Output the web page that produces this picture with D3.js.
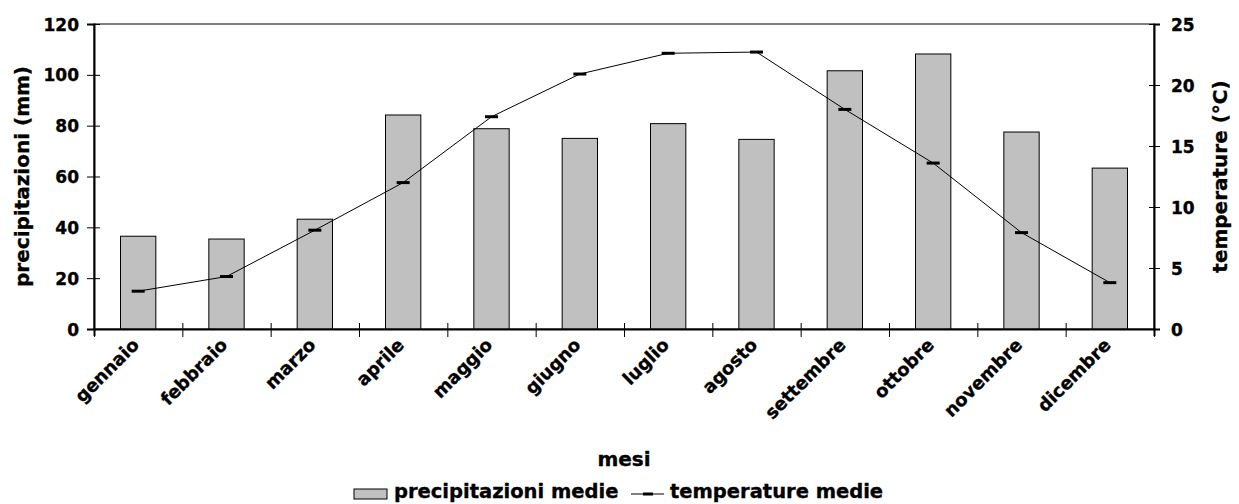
<!DOCTYPE html>
<html>
<head>
<meta charset="utf-8">
<script src="https://cdn.jsdelivr.net/npm/d3@7"></script>
<style>
  html, body { margin: 0; padding: 0; background: #fff; }
  svg { display: block; }
  text { font-family: "DejaVu Sans", Verdana, sans-serif; font-weight: bold; fill: #000;
         stroke: #000; stroke-width: 0.35px; }
</style>
</head>
<body>
<svg id="chart" width="1239" height="504"></svg>
<script>
// Monthly climate normals: mean rainfall (mm) and mean temperature (°C)
const months = ["gennaio", "febbraio", "marzo", "aprile", "maggio", "giugno",
                "luglio", "agosto", "settembre", "ottobre", "novembre", "dicembre"];
const precipitazioni = [36.5, 35.4, 43.2, 84.2, 78.8, 75.0, 80.8, 74.6, 101.6, 108.2, 77.5, 63.3];
const temperature = [3.1, 4.3, 8.1, 12.0, 17.4, 20.9, 22.6, 22.7, 18.0, 13.6, 7.9, 3.8];
const precipTicks = [0, 20, 40, 60, 80, 100, 120];
const tempTicks = [0, 5, 10, 15, 20, 25];

const svg = d3.select("#chart");
const plotLeft = 94, plotRight = 1154, plotTop = 24, plotBottom = 329;
const tickFont = 17, labelFont = 18, titleFont = 20;

const x = d3.scaleBand().domain(months).range([plotLeft, plotRight])
  .paddingInner(0.6).paddingOuter(0.3);
const xEdge = d3.scaleLinear().domain([0, months.length]).range([plotLeft, plotRight]);
const yL = d3.scaleLinear().domain([0, 120]).range([plotBottom, plotTop]);
const yR = d3.scaleLinear().domain([0, 25]).range([plotBottom, plotTop]);
const cx = m => x(m) + x.bandwidth() / 2;
const midY = (plotTop + plotBottom) / 2;

// plot frame
svg.append("rect")
  .attr("x", plotLeft).attr("y", plotTop)
  .attr("width", plotRight - plotLeft).attr("height", plotBottom - plotTop)
  .attr("fill", "none").attr("stroke", "#000").attr("stroke-width", 1);

// bars
svg.append("g").selectAll("rect")
  .data(months)
  .join("rect")
  .attr("x", m => x(m))
  .attr("width", x.bandwidth())
  .attr("y", (m, i) => yL(precipitazioni[i]))
  .attr("height", (m, i) => plotBottom - yL(precipitazioni[i]))
  .attr("fill", "#c0c0c0")
  .attr("stroke", "#000")
  .attr("stroke-width", 1);

// left axis
const gL = svg.append("g").attr("transform", `translate(${plotLeft},0)`)
  .call(d3.axisLeft(yL).tickValues(precipTicks).tickSize(7).tickPadding(8));
gL.select(".domain").attr("stroke-width", 2);
gL.selectAll(".tick line").attr("x2", 6).attr("x1", -7);
gL.selectAll(".tick text").attr("font-size", tickFont).attr("x", -15).attr("dy", "0.36em");

// right axis
const gR = svg.append("g").attr("transform", `translate(${plotRight},0)`)
  .call(d3.axisRight(yR).tickValues(tempTicks).tickSize(6).tickPadding(8));
gR.select(".domain").attr("stroke-width", 2);
gR.selectAll(".tick line").attr("x1", -5).attr("x2", 6);
gR.selectAll(".tick text").attr("font-size", tickFont).attr("x", 17).attr("dy", "0.36em");

// category axis
const gX = svg.append("g").attr("transform", `translate(0,${plotBottom})`)
  .call(d3.axisBottom(xEdge).tickValues(d3.range(0, months.length + 1)).tickFormat("").tickSize(7));
gX.select(".domain").attr("stroke-width", 2);
gX.selectAll(".tick line").attr("y1", -6).attr("y2", 8);

// month labels, slanted
svg.append("g").selectAll("text")
  .data(months)
  .join("text")
  .attr("transform", m => `translate(${cx(m) + 2},${plotBottom + 17}) rotate(-45)`)
  .attr("text-anchor", "end")
  .attr("font-size", labelFont)
  .text(m => m);

// temperature line
const line = d3.line()
  .x((t, i) => cx(months[i]))
  .y(t => yR(t));
svg.append("path")
  .datum(temperature)
  .attr("d", line)
  .attr("fill", "none")
  .attr("stroke", "#000")
  .attr("stroke-width", 1);

// dash markers
svg.append("g").selectAll("line")
  .data(temperature)
  .join("line")
  .attr("x1", (t, i) => cx(months[i]) - 6.5)
  .attr("x2", (t, i) => cx(months[i]) + 6.5)
  .attr("y1", t => yR(t))
  .attr("y2", t => yR(t))
  .attr("stroke", "#000")
  .attr("stroke-width", 3);

// axis titles
svg.append("text")
  .attr("transform", `translate(22,${midY}) rotate(-90)`)
  .attr("text-anchor", "middle").attr("dy", "0.36em")
  .attr("font-size", titleFont)
  .text("precipitazioni (mm)");
svg.append("text")
  .attr("transform", `translate(1220,${midY}) rotate(-90)`)
  .attr("text-anchor", "middle").attr("dy", "0.36em")
  .attr("font-size", titleFont)
  .text("temperature (°C)");
svg.append("text")
  .attr("x", 624).attr("y", 466)
  .attr("text-anchor", "middle")
  .attr("font-size", titleFont)
  .text("mesi");

// legend
const lg = svg.append("g").attr("transform", "translate(354,494)");
lg.append("rect").attr("x", 0).attr("y", -5).attr("width", 33).attr("height", 10)
  .attr("fill", "#c0c0c0").attr("stroke", "#000").attr("stroke-width", 1);
lg.append("text").attr("x", 40).attr("y", 4)
  .attr("font-size", 19.5).text("precipitazioni medie");
lg.append("line").attr("x1", 277).attr("x2", 310).attr("y1", 0).attr("y2", 0)
  .attr("stroke", "#000").attr("stroke-width", 1);
lg.append("line").attr("x1", 289).attr("x2", 299).attr("y1", 0).attr("y2", 0)
  .attr("stroke", "#000").attr("stroke-width", 3);
lg.append("text").attr("x", 316).attr("y", 4)
  .attr("font-size", 19.5).text("temperature medie");
</script>
</body>
</html>
